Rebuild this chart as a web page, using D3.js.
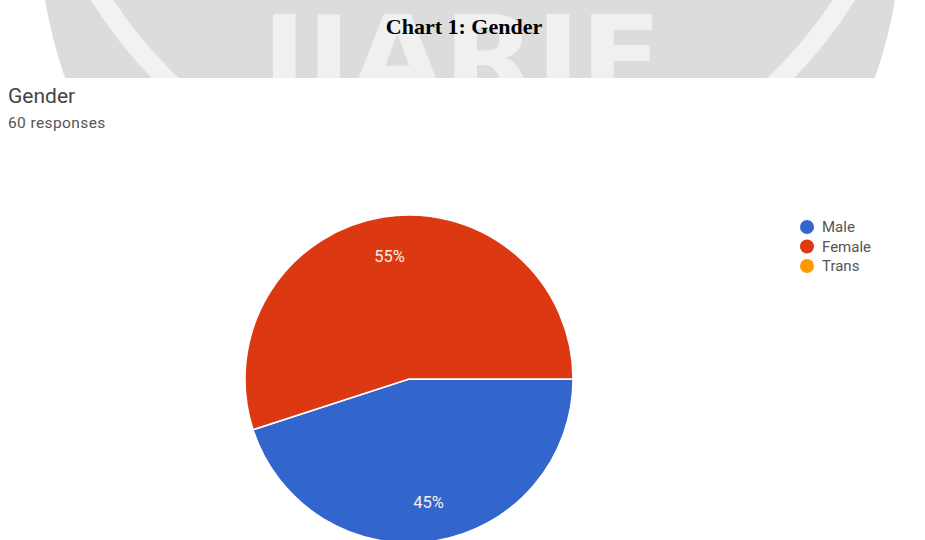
<!DOCTYPE html>
<html>
<head>
<meta charset="utf-8">
<script src="https://cdn.jsdelivr.net/npm/d3@7"></script>
<style>
  html, body { margin: 0; padding: 0; background: #ffffff; }
  svg { display: block; }
</style>
</head>
<body>
<div id="chart"></div>
<script>
// Survey answers: share of respondents per gender
const categories = ["Male", "Female", "Trans"];
const percents = [45, 55, 0];
const colors = ["#3366cc", "#dc3912", "#ff9900"];
const pageTitle = "Chart 1: Gender";
const question = "Gender";
const responses = "60 responses";

const W = 925, H = 540;
const svg = d3.select("#chart").append("svg")
  .attr("width", W).attr("height", H);

// Journal watermark band behind the caption
const defs = svg.append("defs");
defs.append("clipPath").attr("id", "band")
  .append("rect").attr("x", 0).attr("y", 0).attr("width", W).attr("height", 78);
const mark = svg.append("g").attr("clip-path", "url(#band)");
mark.append("circle").attr("cx", 470).attr("cy", -67).attr("r", 430)
  .attr("fill", "#dcdcdc");
mark.append("circle").attr("cx", 473).attr("cy", -235).attr("r", 439)
  .attr("fill", "none").attr("stroke", "#f2f2f2").attr("stroke-width", 19);
mark.append("text").attr("x", 262).attr("y", 96)
  .attr("textLength", 400).attr("lengthAdjust", "spacingAndGlyphs")
  .style("font-family", "DejaVu Sans").style("font-weight", "bold")
  .style("font-size", "112px").attr("fill", "#f0f0f0")
  .text("IJARIE");

svg.append("text").attr("x", 464).attr("y", 34).attr("text-anchor", "middle")
  .style("font-family", "Liberation Serif").style("font-weight", "bold")
  .style("font-size", "22px").attr("fill", "#000")
  .text(pageTitle);

svg.append("text").attr("x", 8).attr("y", 103)
  .style("font-family", "Roboto").style("font-size", "21px").attr("fill", "#444")
  .text(question);
svg.append("text").attr("x", 8).attr("y", 128)
  .style("font-family", "Roboto").style("font-size", "15.5px").attr("fill", "#555")
  .style("letter-spacing", "0.4px")
  .text(responses);

// Pie, starting at three o'clock and running clockwise
const cx = 409, cy = 379, R = 164;
const data = categories.map((c, i) => ({ name: c, value: percents[i], color: colors[i] }));
const pie = d3.pie().value(d => d.value).sort(null)
  .startAngle(Math.PI / 2).endAngle(Math.PI / 2 + 2 * Math.PI);
const arc = d3.arc().innerRadius(0).outerRadius(R);
const labelArc = d3.arc().innerRadius(R * 0.76).outerRadius(R * 0.76);
const arcs = pie(data).filter(d => d.data.value > 0);

const g = svg.append("g").attr("transform", `translate(${cx},${cy})`);
g.selectAll("path").data(arcs).join("path")
  .attr("d", arc).attr("fill", d => d.data.color)
  .attr("stroke", "#ffffff").attr("stroke-width", 1.5);
g.selectAll("text").data(arcs).join("text")
  .attr("transform", d => `translate(${labelArc.centroid(d)})`)
  .attr("text-anchor", "middle").attr("dy", "0.35em")
  .style("font-family", "Roboto").style("font-size", "16.5px").attr("fill", "#fbeee8")
  .text(d => d.data.value + "%");

// Legend
const leg = svg.append("g").attr("transform", "translate(807,227)");
const item = leg.selectAll("g").data(data).join("g")
  .attr("transform", (d, i) => `translate(0,${i * 19.5})`);
item.append("circle").attr("r", 7).attr("fill", d => d.color);
item.append("text").attr("x", 15).attr("dy", "0.36em")
  .style("font-family", "Roboto").style("font-size", "15px").attr("fill", "#555")
  .text(d => d.name);
</script>
</body>
</html>
